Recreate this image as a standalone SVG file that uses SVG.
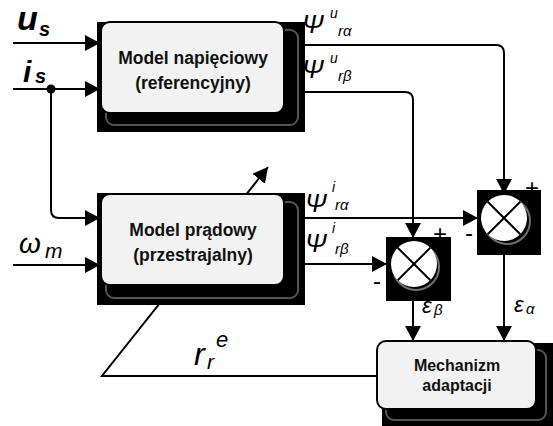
<svg xmlns="http://www.w3.org/2000/svg" width="553" height="426" viewBox="0 0 553 426">
<style>
.ln{fill:none;stroke:#000;stroke-width:2}
.box{fill:#f2f2f2;stroke:#000;stroke-width:2}
.sh{fill:#000}
.ring{fill:none;stroke:#555;stroke-width:2}
.bt{font-family:"Liberation Sans",Arial,sans-serif;font-weight:bold;font-size:17.5px;text-anchor:middle;fill:#111}
.it{font-family:"Liberation Sans",Arial,sans-serif;font-style:italic;fill:#000}
.sg{font-family:"Liberation Sans",Arial,sans-serif;font-size:24px;fill:#000;text-anchor:middle}
</style>
<defs>
<marker id="ar" markerUnits="userSpaceOnUse" markerWidth="16" markerHeight="16" refX="15" refY="8" orient="auto">
<path d="M0,0 L15,8 L0,16 Z" fill="#000"/>
</marker>
</defs>
<g id="connectors">
<path class="ln" d="M13,43 H100" marker-end="url(#ar)"/>
<path class="ln" d="M13,89 H100" marker-end="url(#ar)"/>
<circle cx="51" cy="89" r="4.5" fill="#000"/>
<path class="ln" d="M51,89 V210 Q51,218 59,218 H100" marker-end="url(#ar)"/>
<path class="ln" d="M13,265 H100" marker-end="url(#ar)"/>
<path class="ln" d="M290,45 H496 Q504,45 504,53 V194" marker-end="url(#ar)"/>
<path class="ln" d="M290,92 H405 Q413,92 413,100 V238" marker-end="url(#ar)"/>
<path class="ln" d="M290,218 H478" marker-end="url(#ar)"/>
<path class="ln" d="M290,264 H387" marker-end="url(#ar)"/>
<path class="ln" d="M413,300 V341" marker-end="url(#ar)"/>
<path class="ln" d="M504,254 V341" marker-end="url(#ar)"/>
<path class="ln" d="M377,376 H102 L268,167" marker-end="url(#ar)"/>
</g>
<g id="labels">
<text class="it" x="17" y="30" font-size="34" font-weight="bold">u</text>
<text class="it" x="39" y="36" font-size="20" font-weight="bold">s</text>
<text class="it" x="23" y="82" font-size="30" font-weight="bold">i</text>
<text class="it" x="35" y="83" font-size="20" font-weight="bold">s</text>
<text class="it" x="19" y="253" font-size="28">ω</text>
<text class="it" x="45" y="258" font-size="21">m</text>
<text class="it" x="302" y="33" font-size="26">Ψ</text>
<text class="it" x="330" y="18" font-size="14">u</text>
<text class="it" x="338" y="36" font-size="15">rα</text>
<text class="it" x="302" y="78" font-size="26">Ψ</text>
<text class="it" x="330" y="63" font-size="14">u</text>
<text class="it" x="338" y="81" font-size="15">rβ</text>
<text class="it" x="305" y="212" font-size="26">Ψ</text>
<text class="it" x="332" y="192" font-size="14">i</text>
<text class="it" x="335" y="210" font-size="15">rα</text>
<text class="it" x="305" y="252" font-size="26">Ψ</text>
<text class="it" x="332" y="233" font-size="14">i</text>
<text class="it" x="335" y="254" font-size="15">rβ</text>
<text class="it" x="422" y="313" font-size="22">ε</text>
<text class="it" x="434" y="315" font-size="15">β</text>
<text class="it" x="514" y="312" font-size="22">ε</text>
<text class="it" x="526" y="314" font-size="15">α</text>
<text class="it" x="194" y="365" font-size="32">r</text>
<text class="it" x="207" y="369" font-size="21">r</text>
<text class="it" x="216" y="347" font-size="22">e</text>
<text class="sg" x="532" y="196">+</text>
<text class="sg" x="440" y="242">+</text>
<text class="sg" x="469" y="241">-</text>
<text class="sg" x="377" y="289">-</text>
</g>
<g id="model-napieciowy">
<rect class="sh" x="97" y="22" width="208" height="110"/>
<rect class="ring" x="106" y="30" width="192" height="95" rx="8"/>
<rect class="box" x="101" y="22" width="183" height="91" rx="9"/>
<text class="bt" x="193" y="64">Model napięciowy</text>
<text class="bt" x="193" y="89">(referencyjny)</text>
</g>
<g id="model-pradowy">
<rect class="sh" x="97" y="193" width="208" height="112"/>
<rect class="ring" x="106" y="202" width="192" height="96" rx="8"/>
<rect class="box" x="101" y="194" width="183" height="91" rx="9"/>
<text class="bt" x="193" y="236">Model prądowy</text>
<text class="bt" x="193" y="261">(przestrajalny)</text>
</g>
<g id="sum-beta">
<rect class="sh" x="386" y="237" width="65" height="64"/>
<circle cx="416" cy="267" r="23" fill="none" stroke="#707070" stroke-width="2"/>
<circle cx="414" cy="264" r="23" fill="#fff"/>
<path class="ln" d="M397.7,247.7 L430.3,280.3 M430.3,247.7 L397.7,280.3"/>
</g>
<g id="sum-alpha">
<rect class="sh" x="477" y="190" width="64" height="65"/>
<circle cx="507" cy="221" r="23" fill="none" stroke="#707070" stroke-width="2"/>
<circle cx="504" cy="218" r="23" fill="#fff"/>
<path class="ln" d="M487.7,201.7 L520.3,234.3 M520.3,201.7 L487.7,234.3"/>
</g>
<g id="mechanizm-adaptacji">
<rect class="sh" x="382" y="343" width="171" height="83"/>
<rect class="ring" x="386" y="350" width="160" height="70" rx="8"/>
<rect class="box" x="377" y="341" width="159" height="68" rx="9"/>
<text class="bt" x="457" y="371" style="font-size:16px">Mechanizm</text>
<text class="bt" x="457" y="391" style="font-size:16px">adaptacji</text>
</g>
</svg>
